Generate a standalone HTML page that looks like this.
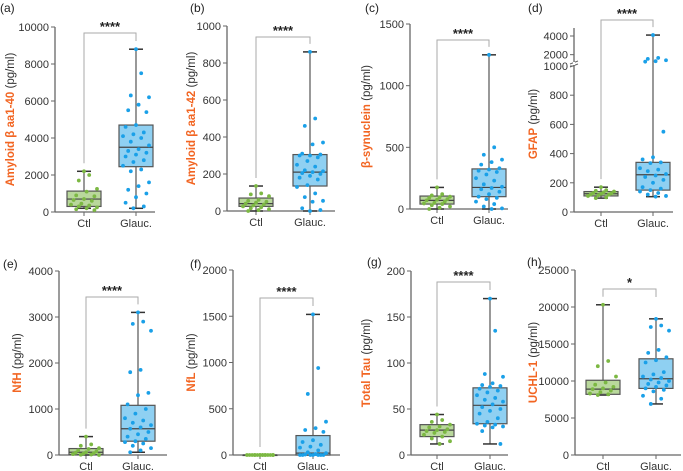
<!DOCTYPE html>
<html><head><meta charset="utf-8"><style>
body{margin:0;background:#fff}
svg{display:block;font-family:"Liberation Sans",sans-serif}
</style></head><body>
<svg id="fig" width="683" height="471" viewBox="0 0 683 471"></svg>
<script>
const groups=["Ctl","Glauc."];
const aCtl=[2200,2000,1700,1250,1100,900,850,700,650,600,450,400,350,300,250,200,150,100];
const aGl=[8800,7500,6300,6200,5800,5500,5400,4700,4600,4300,4200,4100,4000,3800,3600,3400,3300,3200,3100,3000,2800,2700,2500,2300,2200,1600,1400,1200,1000,800,500,300,200];
const aStats=[[200,300,700,1130,2200],[200,2450,3500,4700,8800]];
const bCtl=[135,95,90,80,60,55,50,45,40,35,30,25,20,15,10,5,0];
const bGl=[860,500,460,370,360,310,305,300,300,290,270,250,240,220,215,210,205,200,190,180,170,140,130,95,75,55,50,15,5,0];
const bStats=[[0,25,40,70,135],[0,135,210,305,860]];
const cCtl=[175,120,110,100,95,90,80,75,70,60,50,45,40,30,20,10,0];
const cGl=[1250,500,440,400,380,360,330,320,310,300,280,250,230,200,180,170,160,140,120,100,90,80,60,40,20,5,0];
const cStats=[[0,40,70,105,175],[0,100,175,325,1250]];
const dCtl=[170,150,145,140,135,130,128,125,120,118,115,110,100,95];
const dGl=[4100,1650,1550,1400,1300,1250,550,375,360,340,335,300,290,280,260,250,240,220,200,170,160,150,140,130,120,110,105];
const dStats=[[95,110,125,140,170],[105,150,255,340,4100]];
const eCtl=[400,230,200,150,130,100,80,60,50,40,30,20,10,5,0];
const eGl=[3100,2900,2850,2700,1850,1800,1350,1300,1100,1000,900,800,750,700,650,600,570,500,450,400,350,300,280,250,200,150,100,60];
const eStats=[[0,10,60,140,400],[60,300,570,1080,3100]];
const fCtl=[0,0,0,0,0,0,0,0,0,0,0,0,0,0,0,0];
const fGl=[1520,940,660,360,290,270,250,160,140,110,90,80,50,30,20,10,5,0,0,0,0,0,0,0];
const fStats=[[0,0,0,0,0],[0,0,20,210,1520]];
const gCtl=[44,38,36,33,31,30,28,27,26,25,24,22,20,18,15,12];
const gGl=[170,135,88,85,78,76,75,74,72,70,68,65,62,60,58,55,52,50,48,45,40,36,34,33,32,31,30,26,12];
const gStats=[[12,20,27,33,44],[12,34,54,73,170]];
const hCtl=[20300,12700,12000,10600,9800,9500,9200,9000,8900,8700,8500,8300,8200,8100];
const hGl=[18400,17500,17300,16800,14200,13800,13200,12800,12500,11200,10900,10600,10400,10200,10000,9800,9600,9400,9200,9000,8800,8600,8000,7600,6900];
const hStats=[[8100,8200,8900,10100,20300],[6900,9000,10300,13000,18400]];
const aTicks=[0,2000,4000,6000,8000,10000];
const bTicks=[0,200,400,600,800,1000];
const cTicks=[0,500,1000,1500];
const dTicks=[0,200,400,600,800,1000,2000,4000];
const eTicks=[0,1000,2000,3000,4000];
const fTicks=[0,500,1000,1500,2000];
const gTicks=[0,50,100,150,200];
const hTicks=[0,5000,10000,15000,20000,25000];

const panels=[
 {id:"a",lab:"(a)",lx:0,ly:12,ax:55,y0:212,y1:27,max:10000,cx:[84,136],end:155,br:33,sig:"****",t1:"Amyloid β aa1-40",tx:14,ticks:aTicks,pts:[aCtl,aGl],st:aStats},
 {id:"b",lab:"(b)",lx:190,ly:12,ax:227,y0:211,y1:26,max:1000,cx:[256,310],end:335,br:37,sig:"****",t1:"Amyloid β aa1-42",tx:195,ticks:bTicks,pts:[bCtl,bGl],st:bStats},
 {id:"c",lab:"(c)",lx:365,ly:12,ax:410,y0:209,y1:24,max:1500,cx:[437,489],end:508,br:40,sig:"****",t1:"β-synuclein",tx:370,ticks:cTicks,pts:[cCtl,cGl],st:cStats},
 {id:"d",lab:"(d)",lx:528,ly:12,ax:574,y0:212,y1:36,max:4000,cx:[601,653],end:673,br:20,sig:"****",t1:"GFAP",tx:537,ticks:dTicks,pts:[dCtl,dGl],st:dStats,brk:true},
 {id:"e",lab:"(e)",lx:3,ly:268,ax:59,y0:455,y1:271,max:4000,cx:[86,138],end:167,br:297,sig:"****",t1:"NfH",tx:21,ticks:eTicks,pts:[eCtl,eGl],st:eStats},
 {id:"f",lab:"(f)",lx:190,ly:268,ax:233,y0:455,y1:270,max:2000,cx:[260,313],end:340,br:298,sig:"****",t1:"NfL",tx:195,ticks:fTicks,pts:[fCtl,fGl],st:fStats},
 {id:"g",lab:"(g)",lx:367,ly:266,ax:411,y0:455,y1:271,max:200,cx:[437,490],end:508,br:282,sig:"****",t1:"Total Tau",tx:370,ticks:gTicks,pts:[gCtl,gGl],st:gStats},
 {id:"h",lab:"(h)",lx:527,ly:266,ax:575,y0:455,y1:270,max:25000,cx:[603,656],end:681,br:289,sig:"*",t1:"UCHL-1",tx:537,ticks:hTicks,pts:[hCtl,hGl],st:hStats}
];
const svg=document.getElementById("fig");
const NS="http://www.w3.org/2000/svg";
function mk(tag,attrs,parent,txt){const e=document.createElementNS(NS,tag);for(const k in attrs)e.setAttribute(k,attrs[k]);if(txt!==undefined)e.textContent=txt;parent.appendChild(e);return e;}
const colFill=["#b9d89c","#8fd0f2"],colPt=["#7cb843","#1aa0e8"];
panels.forEach(p=>{
 const g=mk("g",{},svg);
 
 
 let y;
 if(p.brk){const yb=66;y=v=>v<=1000?p.y0-(p.y0-yb)*v/1000:64-(64-p.y1)*(v-1000)/3000;}
 else y=v=>p.y0-(p.y0-p.y1)*v/p.max;
 const pl=mk("text",{x:p.lx,y:p.ly,"font-size":"12",fill:"#222"},g,p.lab);
 
 
 const topY=p.brk?y(4000)-8:p.y1;
 const ya=mk("line",{x1:p.ax,x2:p.ax,y1:topY,y2:p.y0,stroke:"#666","stroke-width":1.3},g);
 
 
 const xa=mk("line",{x1:p.ax,x2:p.end,y1:p.y0,y2:p.y0,stroke:"#666","stroke-width":1.3},g);
 
 
 if(p.brk){mk("line",{x1:p.ax-4,x2:p.ax+4,y1:y(1000)+1,y2:y(1000)-2,stroke:"#666"},g);mk("line",{x1:p.ax-4,x2:p.ax+4,y1:y(1000)-2,y2:y(1000)-5,stroke:"#666"},g);mk("rect",{x:p.ax-1,y:y(1000)-4,width:2,height:3,fill:"#fff"},g);}
 p.ticks.forEach(t=>{
  const ty=y(t);
  mk("line",{x1:p.ax-4,x2:p.ax,y1:ty,y2:ty,stroke:"#666"},g);
  const tl=mk("text",{x:p.ax-6,y:ty+4,"font-size":"11","text-anchor":"end",fill:"#333"},g,String(t));
  
  
 });
 groups.forEach((gn,i)=>{
  mk("line",{x1:p.cx[i],x2:p.cx[i],y1:p.y0,y2:p.y0+4,stroke:"#666"},g);
  const xl=mk("text",{x:p.cx[i],y:p.y0+15,"font-size":"11","text-anchor":"middle",fill:"#333"},g,gn);
  
  
  const s=p.st[i],cx=p.cx[i],w=34;
  const wh=mk("line",{x1:cx,x2:cx,y1:y(s[4]),y2:y(s[0]),stroke:"#555","stroke-width":1.2},g);
  
  
  [s[0],s[4]].forEach(v=>mk("line",{x1:cx-7,x2:cx+7,y1:y(v),y2:y(v),stroke:"#333","stroke-width":1.5},g));
  const bx=mk("rect",{x:cx-w/2,y:y(s[3]),width:w,height:Math.max(0.5,y(s[1])-y(s[3])),fill:colFill[i],stroke:"#555","stroke-width":1.2},g);
  
  
  mk("line",{x1:cx-w/2,x2:cx+w/2,y1:y(s[2]),y2:y(s[2]),stroke:"#444","stroke-width":1.2},g);
  p.pts[i].forEach((v,k)=>{
   const off=k===0?0:((k*7)%11-5)*2.6;
   const c=mk("circle",{cx:cx+off,cy:y(v),r:1.9,fill:colPt[i]},g);
   
   
  });
 });
 const yc=Math.max(p.br+6,y(p.st[0][4])-8),yg=Math.max(p.br+6,Math.min(y(p.st[1][4])-8,p.br+8));
 const br=mk("path",{d:`M${p.cx[0]},${yc}V${p.br}H${p.cx[1]}V${yg}`,fill:"none",stroke:"#aaa","stroke-width":1},g);
 
 
 const sg=mk("text",{x:(p.cx[0]+p.cx[1])/2,y:p.br-2,"font-size":"13","text-anchor":"middle",fill:"#222","font-weight":"bold"},g,p.sig);
 
 
 const cy=(p.y0+p.y1)/2;
 const tt=mk("text",{x:p.tx,y:cy,"font-size":"11.5","text-anchor":"middle",transform:`rotate(-90 ${p.tx} ${cy})`,fill:"#333"},g);
 
 
 mk("tspan",{fill:"#f26522","font-weight":"bold"},tt,p.t1);
 mk("tspan",{},tt," (pg/ml)");
});
</script>
</body></html>
